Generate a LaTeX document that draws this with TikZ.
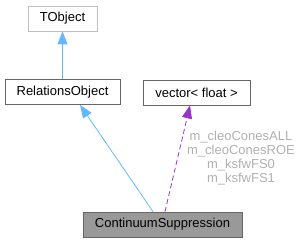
\documentclass[tikz,border=0pt]{standalone}
\usepackage{fontspec}
\setmainfont{Liberation Sans}
\usetikzlibrary{arrows.meta}
\definecolor{inhblue}{HTML}{63B8FF}
\definecolor{usepurple}{HTML}{9A32CD}
\definecolor{lblgray}{HTML}{B0B0B0}
\begin{document}
\begin{tikzpicture}[x=1pt,y=1pt,
  box/.style={draw=black!60, fill=white, rectangle, inner sep=0pt, line width=0.8pt,
    font=\fontsize{13}{15}\selectfont, minimum height=25pt},
  inh/.style={draw=inhblue, line width=0.8pt, -{Triangle[length=13pt,width=10pt,fill=inhblue]}},
  usage/.style={draw=usepurple, line width=0.8pt, dash pattern=on 5pt off 3pt, -{Triangle[length=13pt,width=10pt,fill=usepurple]}},
  lbl/.style={text=lblgray, font=\fontsize{13}{14}\selectfont, align=center, inner sep=0pt}]
\useasboundingbox (0,0) rectangle (301,-243);
\node[box, draw=black!25, minimum width=69pt] (T) at (62.5,-18.5) {TObject};
\node[box, minimum width=115pt] (R) at (62.5,-92) {RelationsObject};
\node[box, minimum width=107pt] (V) at (196.5,-92.5) {vector< float >};
\node[box, fill=black!40, minimum width=159pt] (C) at (162.5,-224.5) {ContinuumSuppression};
\draw[inh] (R.north -| T.south) -- (T.south);
\draw[inh] ([xshift=-9.5pt]C.north) -- ([xshift=17.5pt]R.south);
\draw[usage] ([xshift=2.5pt]C.north) -- ([xshift=-6.5pt]V.south);
\node[lbl] (L) at (241,-158) {m\_cleoConesALL\\m\_cleoConesROE\\m\_ksfwFS0\\m\_ksfwFS1};
\end{tikzpicture}
\end{document}
